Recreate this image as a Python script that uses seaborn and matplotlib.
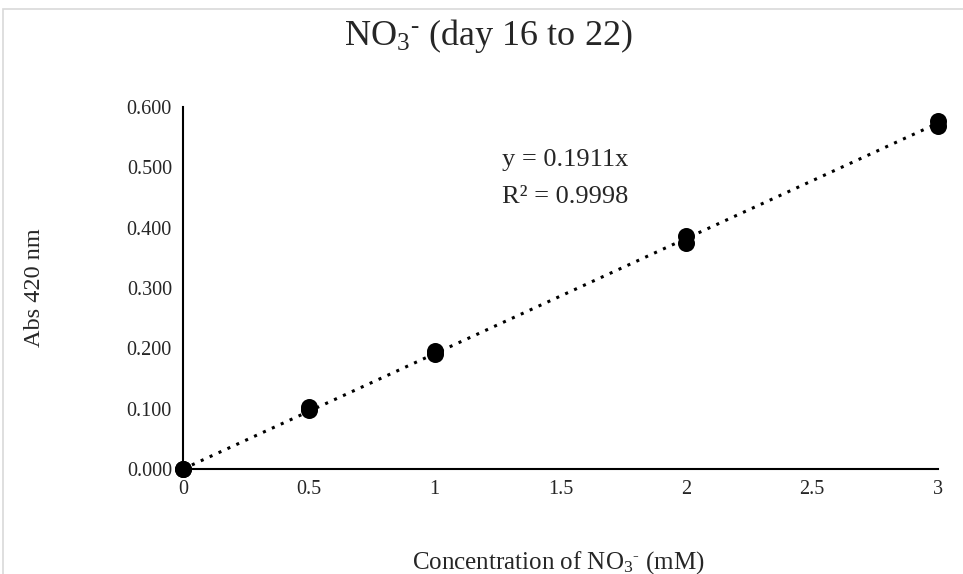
import matplotlib
matplotlib.use("Agg")
import matplotlib.pyplot as plt
import seaborn as sns
import numpy as np
import pandas as pd
from matplotlib.patches import Rectangle

# Data
conc = [0, 0, 0.5, 0.5, 1, 1, 2, 2, 3, 3]
absorb = [0.000, 0.000, 0.097, 0.102, 0.190, 0.195, 0.374, 0.387, 0.569, 0.577]
slope = 0.1911
r2 = 0.9998
xticks = [0, 0.5, 1, 1.5, 2, 2.5, 3]
yticks = [0.0, 0.1, 0.2, 0.3, 0.4, 0.5, 0.6]

sns.set_style("white")
plt.rcParams['font.family'] = ['Liberation Serif', 'DejaVu Serif']
plt.rcParams['mathtext.fontset'] = 'custom'
plt.rcParams['mathtext.rm'] = 'Liberation Serif'
plt.rcParams['mathtext.it'] = 'Liberation Serif:italic'

df = pd.DataFrame({"conc": conc, "abs": absorb})

fig = plt.figure(figsize=(9.63, 5.74), dpi=100)
ax = fig.add_axes([183/963, 1-469/574, (938-183)/963, (469-107)/574])

# frame border
fig.patches.append(Rectangle((3/963, -0.05), 1.0, 1 - 9/574 + 0.05, transform=fig.transFigure,
                             fill=False, edgecolor='#d9d9d9', linewidth=1.2, zorder=0))

xl = np.array([0, 3])
ax.plot(xl, slope * xl, linestyle=(0, (1, 2.2)), color='black', linewidth=2.2, zorder=2)
sns.scatterplot(data=df, x="conc", y="abs", ax=ax, color='black', s=150,
                edgecolor='black', linewidth=0, zorder=3, clip_on=False)

ax.set_xlim(0, 3)
ax.set_ylim(0, 0.6)
ax.set_xticks(xticks)
ax.set_xticklabels([f"{t:g}" for t in xticks])
ax.set_yticks(yticks)
ax.set_yticklabels([f"{t:.3f}" for t in yticks])
ax.tick_params(axis='both', length=0, labelsize=14.5, pad=8)
for s in ['top', 'right']:
    ax.spines[s].set_visible(False)
for s in ['left', 'bottom']:
    ax.spines[s].set_color('black')
    ax.spines[s].set_linewidth(1.5)

ax.set_xlabel(r"Concentration of NO$_3{}^{\text{-}}$ (mM)", fontsize=18)
ax.set_ylabel("Abs 420 nm", fontsize=17.5)
ax.xaxis.set_label_coords((558-183)/755, (469-549)/362)
ax.yaxis.set_label_coords((45-183)/755, 0.5)
fig.text(488/963, 1-36/574, r"NO$_3{}^{\text{-}}$ (day 16 to 22)", ha='center', va='center', fontsize=26)

ax.text(1.267, 0.512, f"y = {slope}x", fontsize=19, ha='left', va='center')
ax.text(1.267, 0.451, f"R² = {r2}", fontsize=19, ha='left', va='center')

fig.savefig("out.png", dpi=100)
